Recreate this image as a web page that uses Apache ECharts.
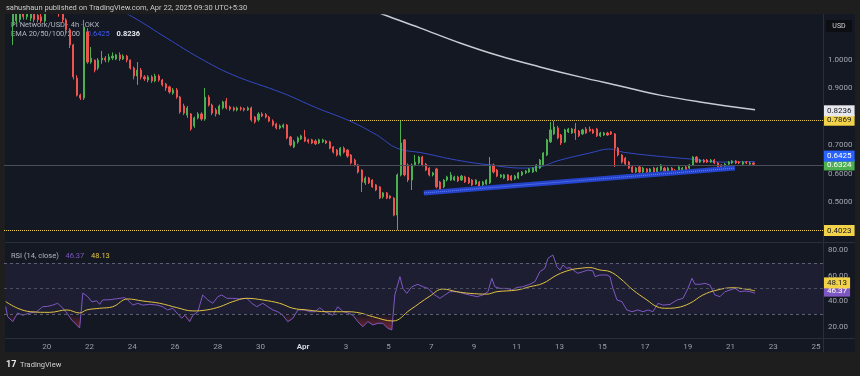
<!DOCTYPE html>
<html>
<head>
<meta charset="utf-8">
<script src="https://cdn.jsdelivr.net/npm/echarts@6/dist/echarts.min.js"></script>
<style>
html, body { margin: 0; padding: 0; background: #1e1e1e; }
#main { width: 860px; height: 376px; }
</style>
</head>
<body>
<div id="main"></div>
<script>
// PI Network/USD 4h candles, first candle ~Mar 18 (day numbers count from Mar 1 = 1)
const firstCandleDay = 18.41;
const candleStep = 1 / 6;
// [open, close, low, high]
const ohlc = [
  [1.118, 1.165, 1.051, 1.19], [1.135, 1.17, 1.125, 1.19], [1.14, 1.175, 1.13, 1.19], [1.17, 1.15, 1.14, 1.18],
  [1.15, 1.165, 1.14, 1.18], [1.145, 1.16, 1.135, 1.175], [1.16, 1.14, 1.13, 1.17], [1.155, 1.14, 1.13, 1.165],
  [1.15, 1.135, 1.128, 1.16], [1.135, 1.17, 1.13, 1.18], [1.17, 1.21, 1.16, 1.23], [1.21, 1.19, 1.18, 1.24],
  [1.19, 1.17, 1.16, 1.21], [1.17, 1.16, 1.15, 1.19], [1.16, 1.139, 1.13, 1.17], [1.139, 1.104, 1.09, 1.145],
  [1.104, 1.051, 1.04, 1.11], [1.051, 0.939, 0.93, 1.055], [0.935, 0.875, 0.87, 0.945], [0.875, 0.865, 0.858, 0.88],
  [0.865, 1.114, 0.858, 1.139], [1.097, 0.991, 0.985, 1.11], [0.991, 1.005, 0.985, 1.044], [0.998, 0.963, 0.955, 1.0],
  [0.970, 0.998, 0.963, 1.005], [0.998, 1.005, 0.985, 1.03], [1.005, 0.998, 0.99, 1.012], [0.998, 1.009, 0.99, 1.02],
  [1.005, 1.012, 0.998, 1.025], [1.002, 1.016, 0.998, 1.02], [1.016, 1.002, 0.995, 1.025], [1.002, 1.012, 0.998, 1.018],
  [1.012, 0.998, 0.99, 1.016], [0.998, 0.970, 0.965, 1.0], [0.970, 0.942, 0.93, 0.975], [0.942, 0.963, 0.911, 0.991],
  [0.963, 0.939, 0.93, 0.97], [0.939, 0.932, 0.925, 0.945], [0.928, 0.939, 0.92, 0.945], [0.939, 0.925, 0.918, 0.945],
  [0.925, 0.942, 0.92, 0.95], [0.942, 0.928, 0.922, 0.948], [0.928, 0.911, 0.905, 0.932], [0.914, 0.900, 0.89, 0.918],
  [0.904, 0.886, 0.88, 0.908], [0.882, 0.893, 0.876, 0.9], [0.893, 0.868, 0.862, 0.9], [0.868, 0.816, 0.81, 0.872],
  [0.837, 0.812, 0.805, 0.845], [0.805, 0.830, 0.795, 0.837], [0.809, 0.756, 0.75, 0.812], [0.767, 0.795, 0.76, 0.80],
  [0.795, 0.809, 0.79, 0.815], [0.809, 0.791, 0.785, 0.815], [0.791, 0.868, 0.785, 0.9], [0.868, 0.84, 0.835, 0.875],
  [0.84, 0.812, 0.805, 0.845], [0.823, 0.809, 0.80, 0.83], [0.809, 0.837, 0.805, 0.842], [0.83, 0.851, 0.825, 0.855],
  [0.854, 0.83, 0.825, 0.865], [0.833, 0.826, 0.82, 0.838], [0.83, 0.823, 0.818, 0.835], [0.823, 0.83, 0.818, 0.835],
  [0.83, 0.826, 0.82, 0.835], [0.828, 0.823, 0.818, 0.832], [0.823, 0.83, 0.82, 0.835], [0.83, 0.788, 0.782, 0.835],
  [0.798, 0.781, 0.775, 0.802], [0.788, 0.809, 0.782, 0.815], [0.809, 0.802, 0.798, 0.815], [0.807, 0.798, 0.793, 0.812],
  [0.798, 0.784, 0.78, 0.802], [0.784, 0.770, 0.765, 0.79], [0.774, 0.760, 0.755, 0.778], [0.760, 0.767, 0.755, 0.772],
  [0.763, 0.77, 0.758, 0.775], [0.77, 0.725, 0.72, 0.774], [0.728, 0.70, 0.695, 0.732], [0.693, 0.711, 0.689, 0.718],
  [0.711, 0.725, 0.705, 0.73], [0.721, 0.732, 0.718, 0.736], [0.728, 0.714, 0.71, 0.753], [0.718, 0.711, 0.705, 0.722],
  [0.718, 0.707, 0.703, 0.722], [0.714, 0.704, 0.70, 0.72], [0.707, 0.718, 0.703, 0.722], [0.711, 0.718, 0.707, 0.722],
  [0.714, 0.707, 0.703, 0.718], [0.711, 0.689, 0.685, 0.715], [0.693, 0.675, 0.67, 0.696], [0.682, 0.665, 0.66, 0.686],
  [0.665, 0.689, 0.66, 0.693], [0.689, 0.675, 0.67, 0.695], [0.682, 0.661, 0.655, 0.686], [0.665, 0.637, 0.632, 0.668],
  [0.647, 0.630, 0.625, 0.652], [0.63, 0.605, 0.60, 0.633], [0.612, 0.570, 0.535, 0.615], [0.567, 0.584, 0.56, 0.59],
  [0.584, 0.567, 0.563, 0.588], [0.577, 0.553, 0.55, 0.58], [0.56, 0.542, 0.538, 0.563], [0.553, 0.514, 0.51, 0.556],
  [0.518, 0.532, 0.512, 0.535], [0.532, 0.514, 0.51, 0.535], [0.521, 0.514, 0.51, 0.524], [0.514, 0.454, 0.45, 0.517],
  [0.454, 0.595, 0.402, 0.60], [0.595, 0.707, 0.59, 0.787], [0.718, 0.595, 0.59, 0.72], [0.63, 0.577, 0.57, 0.635],
  [0.577, 0.63, 0.542, 0.635], [0.63, 0.64, 0.625, 0.665], [0.637, 0.658, 0.632, 0.662], [0.658, 0.63, 0.625, 0.662],
  [0.633, 0.612, 0.608, 0.637], [0.619, 0.595, 0.59, 0.622], [0.595, 0.602, 0.59, 0.606], [0.616, 0.553, 0.548, 0.62],
  [0.570, 0.542, 0.538, 0.574], [0.553, 0.577, 0.548, 0.58], [0.577, 0.588, 0.572, 0.592], [0.577, 0.595, 0.574, 0.605],
  [0.577, 0.588, 0.574, 0.592], [0.588, 0.574, 0.57, 0.592], [0.577, 0.591, 0.574, 0.595], [0.588, 0.570, 0.567, 0.592],
  [0.584, 0.567, 0.563, 0.588], [0.577, 0.56, 0.556, 0.58], [0.563, 0.577, 0.56, 0.58], [0.570, 0.553, 0.55, 0.574],
  [0.56, 0.570, 0.556, 0.574], [0.563, 0.577, 0.56, 0.58], [0.567, 0.63, 0.563, 0.658], [0.63, 0.605, 0.60, 0.635],
  [0.612, 0.591, 0.587, 0.616], [0.588, 0.595, 0.584, 0.598], [0.584, 0.595, 0.58, 0.598], [0.595, 0.577, 0.574, 0.598],
  [0.591, 0.577, 0.574, 0.595], [0.581, 0.591, 0.577, 0.595], [0.584, 0.602, 0.58, 0.605], [0.595, 0.605, 0.591, 0.609],
  [0.602, 0.609, 0.598, 0.612], [0.605, 0.616, 0.602, 0.619], [0.605, 0.619, 0.602, 0.622], [0.609, 0.63, 0.605, 0.633],
  [0.619, 0.647, 0.616, 0.651], [0.63, 0.672, 0.626, 0.675], [0.665, 0.718, 0.661, 0.722], [0.711, 0.753, 0.707, 0.781],
  [0.739, 0.763, 0.735, 0.784], [0.760, 0.725, 0.72, 0.767], [0.735, 0.707, 0.70, 0.739], [0.711, 0.753, 0.707, 0.757],
  [0.746, 0.756, 0.742, 0.76], [0.742, 0.756, 0.739, 0.76], [0.756, 0.742, 0.718, 0.777], [0.749, 0.732, 0.728, 0.753],
  [0.739, 0.753, 0.735, 0.757], [0.756, 0.742, 0.739, 0.763], [0.756, 0.749, 0.746, 0.765], [0.753, 0.742, 0.739, 0.757],
  [0.756, 0.732, 0.728, 0.76], [0.732, 0.742, 0.728, 0.746], [0.735, 0.742, 0.732, 0.746], [0.742, 0.735, 0.732, 0.746],
  [0.746, 0.739, 0.735, 0.749], [0.739, 0.689, 0.623, 0.742], [0.689, 0.665, 0.66, 0.693], [0.665, 0.64, 0.635, 0.668],
  [0.654, 0.633, 0.63, 0.658], [0.64, 0.619, 0.616, 0.644], [0.623, 0.605, 0.602, 0.626], [0.605, 0.619, 0.602, 0.623],
  [0.623, 0.605, 0.602, 0.626], [0.605, 0.619, 0.602, 0.623], [0.616, 0.605, 0.602, 0.619], [0.605, 0.616, 0.602, 0.619],
  [0.619, 0.602, 0.598, 0.623], [0.605, 0.619, 0.602, 0.623], [0.612, 0.63, 0.609, 0.633], [0.619, 0.609, 0.605, 0.623],
  [0.609, 0.619, 0.605, 0.623], [0.619, 0.605, 0.602, 0.623], [0.612, 0.605, 0.602, 0.616], [0.609, 0.623, 0.605, 0.626],
  [0.612, 0.619, 0.609, 0.623], [0.623, 0.612, 0.609, 0.626], [0.619, 0.63, 0.616, 0.633], [0.63, 0.658, 0.626, 0.661],
  [0.658, 0.64, 0.637, 0.661], [0.64, 0.647, 0.637, 0.651], [0.647, 0.64, 0.637, 0.651], [0.647, 0.64, 0.637, 0.651],
  [0.64, 0.647, 0.637, 0.651], [0.647, 0.637, 0.633, 0.651], [0.637, 0.623, 0.619, 0.64], [0.63, 0.623, 0.619, 0.633],
  [0.623, 0.633, 0.619, 0.637], [0.633, 0.64, 0.63, 0.644], [0.637, 0.644, 0.633, 0.647], [0.644, 0.637, 0.633, 0.647],
  [0.64, 0.637, 0.633, 0.644], [0.633, 0.64, 0.63, 0.644], [0.64, 0.637, 0.633, 0.644], [0.633, 0.637, 0.63, 0.642],
  [0.637, 0.6324, 0.63, 0.64]
];
const lastPrice = 0.6324;

// EMA lines
const emaFastDays = [22.48, 24.03, 25.62, 27.16, 28.71, 31.05, 32.64, 34.19, 35.45, 36.39, 37.60, 39.19, 40.74, 42.28, 43.08, 43.88, 45.42, 46.36, 46.97, 48.56, 50.10, 51.65, 53.15];
const emaFastValues = [1.209, 1.149, 1.075, 1.005, 0.946, 0.882, 0.830, 0.784, 0.735, 0.689, 0.672, 0.647, 0.630, 0.619, 0.623, 0.644, 0.672, 0.686, 0.675, 0.661, 0.651, 0.640, 0.6425];
const emaSlowDays = [35.12, 35.82, 37.46, 39.34, 41.21, 43.08, 44.95, 46.83, 48.70, 50.57, 53.15];
const emaSlowValues = [1.177, 1.156, 1.111, 1.058, 1.012, 0.974, 0.939, 0.907, 0.875, 0.851, 0.8236];

// drawn levels
const trendDays = [37.65, 52.21];
const trendValues = [0.5316, 0.619];
const resistance = 0.7869;
const resistanceFrom = 34.19;
const support = 0.4023;

// RSI (14, close) and its moving average
const rsiDays = [18.08, 18.17, 18.41, 18.64, 18.88, 19.20, 19.53, 19.81, 20.05, 20.28, 20.51, 20.75, 20.94, 21.17, 21.40, 21.54, 21.69, 21.92, 22.11, 22.34, 22.48, 22.62, 22.95, 23.28, 23.65, 23.79, 24.03, 24.26, 24.49, 24.82, 25.15, 25.43, 25.66, 25.90, 26.09, 26.32, 26.46, 26.69, 26.84, 27.07, 27.30, 27.54, 27.77, 28.01, 28.19, 28.43, 28.71, 29.04, 29.36, 29.60, 29.83, 30.11, 30.35, 30.58, 30.81, 31.05, 31.28, 31.52, 31.75, 32.08, 32.31, 32.55, 32.78, 33.01, 33.16, 33.39, 33.62, 33.86, 34.09, 34.33, 34.56, 34.79, 35.03, 35.26, 35.50, 35.73, 35.96, 36.15, 36.29, 36.53, 36.67, 36.85, 37.09, 37.37, 37.60, 37.84, 37.93, 38.16, 38.40, 38.63, 38.87, 39.19, 39.48, 39.80, 40.13, 40.41, 40.65, 40.83, 40.97, 41.21, 41.54, 41.77, 42.00, 42.28, 42.61, 42.85, 43.08, 43.31, 43.46, 43.69, 43.88, 44.02, 44.16, 44.34, 44.49, 44.63, 44.86, 45.09, 45.33, 45.56, 45.66, 45.89, 46.22, 46.36, 46.50, 46.69, 46.92, 47.15, 47.39, 47.67, 47.90, 48.14, 48.37, 48.61, 48.84, 49.17, 49.49, 49.78, 50.01, 50.20, 50.34, 50.57, 50.81, 51.04, 51.27, 51.51, 51.74, 51.98, 52.21, 52.44, 52.68, 52.91, 53.15];
const rsiValues = [35.7, 27.9, 24, 30.8, 29, 30.8, 31.8, 35.7, 36, 37, 38.4, 34.7, 30.8, 25.3, 21.4, 19, 46.5, 43.6, 39.6, 40.3, 37.6, 41, 41.2, 42, 42.8, 41, 37, 38.4, 37, 37.6, 37, 35.7, 33.2, 34.5, 30.8, 26.6, 29, 24, 29, 31.8, 44.9, 41, 38.4, 43.6, 44.9, 42.3, 42.3, 41.8, 42.3, 38.4, 35.7, 38.4, 35.7, 33.2, 31.8, 29, 24, 26.6, 33.2, 33.2, 31.8, 31.8, 34.9, 31.8, 30.8, 29, 35.7, 32, 30.8, 29, 24, 20, 24, 21.4, 22.7, 22.7, 18.8, 17.5, 44.9, 59.3, 50.1, 46.2, 51.4, 53.3, 51.4, 50.1, 48.8, 44.9, 42.3, 44.9, 47.5, 47.5, 46.2, 44.9, 43.6, 44.9, 47.5, 58, 51.4, 50.1, 50.1, 48.8, 50.8, 51.4, 53.3, 55.4, 63.2, 65.8, 73.7, 76.3, 67.1, 64.5, 68.4, 65.8, 66.4, 64.5, 61.9, 63.2, 64.5, 63.8, 59.3, 60.6, 60.6, 59.3, 50.1, 41, 39.7, 33.2, 31.8, 33.2, 31.8, 33.2, 31.8, 38.4, 37, 37.5, 40.9, 42.3, 50.1, 58, 53.3, 53.3, 54, 52.7, 44.9, 43.6, 47.5, 48.8, 50.1, 47.5, 48, 47.5, 46.37];
const rsiMaDays = [18.08, 18.64, 19.25, 20.14, 20.94, 21.54, 21.87, 22.48, 23.09, 23.79, 24.49, 25.29, 26.09, 26.84, 27.49, 28.10, 28.71, 29.36, 30.11, 30.90, 31.52, 32.17, 33.11, 34.05, 34.66, 35.26, 36.20, 37.00, 37.93, 38.54, 39.19, 39.80, 40.60, 41.07, 42.00, 42.61, 43.22, 43.88, 44.49, 44.95, 45.42, 45.89, 46.36, 46.83, 47.44, 48.09, 48.56, 49.03, 49.49, 50.10, 50.71, 51.37, 52.12, 52.77, 53.15];
const rsiMaValues = [39.7, 34.5, 31.8, 31.3, 33.2, 30.8, 33.2, 34.5, 35.7, 41.8, 40.2, 38.4, 35, 32.4, 33.2, 35.7, 39.7, 42.3, 41, 38.4, 34.5, 33.2, 31.8, 31.8, 30.8, 27.9, 24.5, 33.2, 44, 49.6, 47.5, 46.2, 45.6, 47.5, 48.8, 51.4, 54, 60.6, 64.5, 65.8, 66.4, 64.5, 63.2, 58, 48.8, 41, 35.7, 34.5, 35, 38.4, 44.9, 48.8, 50.6, 49.4, 48.13];
const rsiLast = 46.37;
const rsiMaLast = 48.13;

// axis ticks
const dayTicks = [20, 22, 24, 26, 28, 30, 32, 34, 36, 38, 40, 42, 44, 46, 48, 50, 52, 54, 56];
const priceTicks = [0.5, 0.6, 0.7, 0.9, 1.0];
const rsiTicks = [20, 40, 60, 80];

const up = '#4caf50';
const down = '#ef5350';
const yellow = '#f2d249';
const font = 'Roboto, "Liberation Sans", sans-serif';
const clear = 'rgba(0,0,0,0)';

const zip = (xs, ys) => xs.map((x, i) => [x, ys[i]]);
const candleData = ohlc.map((d, i) => [firstCandleDay + i * candleStep, d[0], d[1], d[2], d[3]]);

const badge = (text, bg, fg, dy) => ({
  show: true, position: 'end', distance: 1,
  formatter: text, backgroundColor: bg, color: fg,
  fontSize: 8, fontFamily: font, padding: [2, 3, 1, 3],
  offset: [0, dy || 0]
});

const myChart = echarts.init(document.getElementById('main'));
const option = {
  animation: false,
  backgroundColor: '#141823',
  grid: [
    {left: 4, right: 37, top: 15, height: 225},
    {left: 4, right: 37, top: 245, height: 93}
  ],
  xAxis: [
    {type: 'value', gridIndex: 0, min: 18, max: 56.33, show: false},
    {
      type: 'value', gridIndex: 1, min: 18, max: 56.33,
      axisLine: {show: false}, axisTick: {show: false}, splitLine: {show: false},
      axisLabel: {
        customValues: dayTicks, margin: 5, fontSize: 8, fontFamily: font, color: '#9a9ea8',
        formatter: (v) => v === 32 ? '{b|Apr}' : String(v > 31 ? v - 31 : v),
        rich: {b: {fontWeight: 'bold', color: '#d1d4dc', fontSize: 8, fontFamily: font}}
      }
    }
  ],
  yAxis: [
    {
      type: 'value', gridIndex: 0, position: 'right', min: 0.36667, max: 1.15614,
      axisLine: {show: false}, axisTick: {show: false}, splitLine: {show: false},
      axisLabel: {customValues: priceTicks, margin: 5, fontSize: 8, fontFamily: font, color: '#a3a6af', formatter: (v) => v.toFixed(4)}
    },
    {
      type: 'value', gridIndex: 1, position: 'right', min: 11.18, max: 84.12,
      axisLine: {show: false}, axisTick: {show: false}, splitLine: {show: false},
      axisLabel: {customValues: rsiTicks, margin: 5, fontSize: 8, fontFamily: font, color: '#a3a6af', formatter: (v) => v.toFixed(2)}
    }
  ],
  visualMap: [{
    show: false, type: 'continuous', seriesIndex: 5, dimension: 1, min: 10, max: 30,
    inRange: {color: ['rgba(242,54,69,0.75)', 'rgba(242,54,69,0)']},
    outOfRange: {color: clear}
  }],
  series: [
    {
      type: 'candlestick', xAxisIndex: 0, yAxisIndex: 0,
      data: candleData, barWidth: 1.6,
      itemStyle: {color: up, color0: down, borderColor: up, borderColor0: down, borderWidth: 1},
      markLine: {
        symbol: 'none', silent: true, animation: false,
        data: [
          {yAxis: lastPrice, lineStyle: {color: '#4a4e5c', type: 'solid', width: 1}, label: badge(lastPrice.toFixed(4), up, '#ffffff')},
          {yAxis: support, lineStyle: {color: yellow, type: 'dotted', width: 1}, label: badge(support.toFixed(4), yellow, '#131722')},
          [
            {coord: [resistanceFrom, resistance], lineStyle: {color: yellow, type: 'dotted', width: 1}, label: badge(resistance.toFixed(4), yellow, '#131722')},
            {coord: [56.33, resistance], lineStyle: {color: yellow, type: 'dotted', width: 1}, label: badge(resistance.toFixed(4), yellow, '#131722')}
          ],
          {yAxis: emaSlowValues[emaSlowValues.length - 1], lineStyle: {color: clear, width: 1}, label: badge(emaSlowValues[emaSlowValues.length - 1].toFixed(4), '#e6e8ee', '#131722')},
          {yAxis: emaFastValues[emaFastValues.length - 1], lineStyle: {color: clear, width: 1}, label: badge(emaFastValues[emaFastValues.length - 1].toFixed(4), '#2962ff', '#ffffff', -6)}
        ]
      }
    },
    {
      type: 'line', xAxisIndex: 0, yAxisIndex: 0, data: zip(emaFastDays, emaFastValues),
      smooth: 0.4, showSymbol: false, lineStyle: {color: '#3349c4', width: 1}, z: 1
    },
    {
      type: 'line', xAxisIndex: 0, yAxisIndex: 0, data: zip(emaSlowDays, emaSlowValues),
      smooth: 0.4, showSymbol: false, lineStyle: {color: '#c9cbd2', width: 1.5}, z: 1
    },
    {
      type: 'line', xAxisIndex: 0, yAxisIndex: 0, data: zip(trendDays, trendValues),
      showSymbol: false, lineStyle: {color: '#2443c9', width: 5}
    },
    {
      type: 'line', xAxisIndex: 0, yAxisIndex: 0, data: zip(trendDays, trendValues),
      showSymbol: false, lineStyle: {color: '#6a86ff', width: 1, type: 'dotted'}
    },
    {
      type: 'line', xAxisIndex: 1, yAxisIndex: 1, data: zip(rsiDays, rsiValues),
      showSymbol: false, lineStyle: {width: 0, opacity: 0}, areaStyle: {origin: 30, opacity: 1}, z: 1
    },
    {
      type: 'line', xAxisIndex: 1, yAxisIndex: 1, data: zip(rsiDays, rsiValues),
      showSymbol: false, lineStyle: {color: '#7e57c2', width: 1},
      markArea: {silent: true, itemStyle: {color: 'rgba(126,87,194,0.1)'}, data: [[{yAxis: 30}, {yAxis: 70}]]},
      markLine: {
        symbol: 'none', silent: true, animation: false,
        data: [
          {yAxis: 70, lineStyle: {color: '#5d6070', type: [3, 3], width: 1}, label: {show: false}},
          {yAxis: 50, lineStyle: {color: '#4d5060', type: [3, 3], width: 1}, label: {show: false}},
          {yAxis: 30, lineStyle: {color: '#5d6070', type: [3, 3], width: 1}, label: {show: false}},
          {yAxis: rsiLast, lineStyle: {color: clear, width: 1}, label: badge(rsiLast.toFixed(2), '#7e57c2', '#ffffff', -2)}
        ]
      }
    },
    {
      type: 'line', xAxisIndex: 1, yAxisIndex: 1, data: zip(rsiMaDays, rsiMaValues),
      smooth: 0.4, showSymbol: false, lineStyle: {color: '#e0c341', width: 1},
      markLine: {
        symbol: 'none', silent: true, animation: false,
        data: [{yAxis: rsiMaLast, lineStyle: {color: clear, width: 1}, label: badge(rsiMaLast.toFixed(2), yellow, '#131722', -8)}]
      }
    }
  ],
  graphic: [
    // outer frame
    {type: 'rect', shape: {x: 0, y: 0, width: 860, height: 14}, style: {fill: '#1e1e1e'}, z: 5},
    {type: 'rect', shape: {x: 0, y: 352, width: 860, height: 24}, style: {fill: '#1e1e1e'}, z: 5},
    {type: 'rect', shape: {x: 0, y: 0, width: 5, height: 376}, style: {fill: '#1e1e1e'}, z: 5},
    {type: 'rect', shape: {x: 855, y: 0, width: 5, height: 376}, style: {fill: '#1e1e1e'}, z: 5},
    // pane separators
    {type: 'line', shape: {x1: 5, y1: 242.5, x2: 855, y2: 242.5}, style: {stroke: '#2a2e39', lineWidth: 1}, z: 5},
    {type: 'line', shape: {x1: 5, y1: 338.5, x2: 855, y2: 338.5}, style: {stroke: '#2a2e39', lineWidth: 1}, z: 5},
    {type: 'line', shape: {x1: 823.5, y1: 14, x2: 823.5, y2: 352}, style: {stroke: '#2a2e39', lineWidth: 1}, z: 5},
    // USD box
    {type: 'rect', shape: {x: 826, y: 20, width: 26, height: 12}, style: {fill: '#0c0e14'}, z: 5},
    {type: 'text', style: {text: 'USD', x: 839, y: 26.5, fill: '#d1d4dc', font: '7px ' + font, align: 'center', verticalAlign: 'middle'}, z: 6},
    // header / footer
    {type: 'text', style: {text: 'sahushaun published on TradingView.com, Apr 22, 2025 09:30 UTC+5:30', x: 6, y: 8, fill: '#c9cacc', font: '7.5px ' + font, verticalAlign: 'middle'}, z: 6},
    {type: 'text', style: {text: '17', x: 6, y: 365, fill: '#e8e8e8', font: 'bold 9px ' + font, verticalAlign: 'middle'}, z: 6},
    {type: 'text', style: {text: 'TradingView', x: 20, y: 365, fill: '#d0d0d0', font: '7.5px ' + font, verticalAlign: 'middle'}, z: 6},
    // legends (under the candles)
    {type: 'text', style: {text: 'PI Network/USD · 4h · OKX', x: 11, y: 25, fill: '#b2b5be', font: '7.5px ' + font, verticalAlign: 'middle'}, z: 0},
    {
      type: 'text', z: 0,
      style: {
        text: '{a|EMA 20/50/100/200}  {b|0.6425}  {c|0.8236}', x: 11, y: 34, verticalAlign: 'middle',
        rich: {
          a: {fill: '#b2b5be', font: '7.5px ' + font},
          b: {fill: '#3d5bf0', font: '7.5px ' + font},
          c: {fill: '#e6e8ee', font: 'bold 7.5px ' + font}
        }
      }
    },
    {
      type: 'text', z: 6,
      style: {
        text: '{a|RSI (14, close)}  {b|46.37}  {c|48.13}', x: 11, y: 256, verticalAlign: 'middle',
        rich: {
          a: {fill: '#b2b5be', font: '7.5px ' + font},
          b: {fill: '#7e57c2', font: '7.5px ' + font},
          c: {fill: '#e0c341', font: '7.5px ' + font}
        }
      }
    }
  ]
};

myChart.setOption(option);
</script>
</body>
</html>
